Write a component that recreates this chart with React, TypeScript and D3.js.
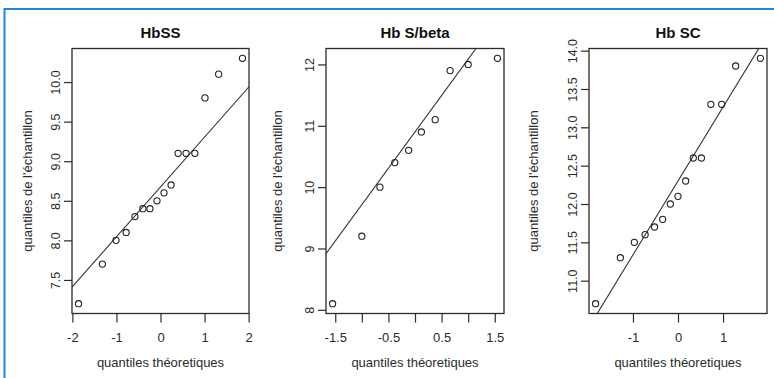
import * as d3 from "d3";
import React, { Component } from "react";

const titles = ["HbSS", "Hb S/beta", "Hb SC"];

// theoretical quantiles (x) and sample quantiles (y)
const hbssTheo = [-1.86, -1.32, -1.01, -0.78, -0.58, -0.4, -0.24, -0.08, 0.08, 0.24, 0.4, 0.58, 0.78, 1.01, 1.32, 1.86];
const hbssSample = [7.2, 7.7, 8.0, 8.1, 8.3, 8.4, 8.4, 8.5, 8.6, 8.7, 9.1, 9.1, 9.1, 9.8, 10.1, 10.3];

const sbetaTheo = [-1.55, -1.0, -0.66, -0.38, -0.12, 0.12, 0.38, 0.66, 1.0, 1.55];
const sbetaSample = [8.1, 9.2, 10.0, 10.4, 10.6, 10.9, 11.1, 11.9, 12.0, 12.1];

const hbscTheo = [-1.83, -1.28, -0.97, -0.73, -0.52, -0.34, -0.17, 0, 0.17, 0.34, 0.52, 0.73, 0.97, 1.28, 1.83];
const hbscSample = [10.7, 11.3, 11.5, 11.6, 11.7, 11.8, 12.0, 12.1, 12.3, 12.6, 12.6, 13.3, 13.3, 13.8, 13.9];

const xTicks = [[-2, -1, 0, 1, 2], [-1.5, -1, -0.5, 0, 0.5, 1, 1.5], [-1, 0, 1]];
const xTickLabels = [["-2", "-1", "0", "1", "2"], ["-1.5", "", "-0.5", "", "0.5", "", "1.5"], ["-1", "0", "1"]];
const yTicks = [[7.5, 8, 8.5, 9, 9.5, 10], [8, 9, 10, 11, 12], [11, 11.5, 12, 12.5, 13, 13.5, 14]];
const yTickLabels = [
  ["7.5", "8.0", "8.5", "9.0", "9.5", "10.0"],
  ["8", "9", "10", "11", "12"],
  ["11.0", "11.5", "12.0", "12.5", "13.0", "13.5", "14.0"]
];

const xTitle = "quantiles théoretiques";
const yTitle = "quantiles de l'échantillon";

class App extends Component {
  svgRef = React.createRef<SVGSVGElement>();

  componentDidMount() {
    this.drawChart();
  }

  drawChart() {
    var width = 774,
      height = 378;
    var panels = [
      { theo: hbssTheo, sample: hbssSample, left: 72, right: 249, yTitleX: 27 },
      { theo: sbetaTheo, sample: sbetaSample, left: 326, right: 504, yTitleX: 277 },
      { theo: hbscTheo, sample: hbscSample, left: 589, right: 767, yTitleX: 533 }
    ];
    var top = 48.5,
      bottom = 313.5;
    var ink = "#2b2b2b";
    var font = "Liberation Sans, Arial, sans-serif";

    var svg = d3.select(this.svgRef.current);
    svg.selectAll("*").remove();

    // blue frame (top and left edge)
    svg.append("line")
      .attr("x1", 4.5).attr("x2", width)
      .attr("y1", 9).attr("y2", 9)
      .attr("stroke", "#1e88d2").attr("stroke-width", 2);
    svg.append("line")
      .attr("x1", 4.5).attr("x2", 4.5)
      .attr("y1", 8).attr("y2", height)
      .attr("stroke", "#1e88d2").attr("stroke-width", 2);

    panels.forEach(function (p, k) {
      // R style: pad range by 4%
      var xe = d3.extent(p.theo) as [number, number];
      var ye = d3.extent(p.sample) as [number, number];
      var xp = (xe[1] - xe[0]) * 0.04,
        yp = (ye[1] - ye[0]) * 0.04;
      var xScale = d3.scaleLinear().domain([xe[0] - xp, xe[1] + xp]).range([p.left, p.right]);
      var yScale = d3.scaleLinear().domain([ye[0] - yp, ye[1] + yp]).range([bottom, top]);

      var g = svg.append("g");

      g.append("clipPath").attr("id", "clip" + k)
        .append("rect")
        .attr("x", p.left).attr("y", top)
        .attr("width", p.right - p.left).attr("height", bottom - top);

      // qqline through the quartiles
      var q1 = d3.quantile(p.sample, 0.25) as number;
      var q3 = d3.quantile(p.sample, 0.75) as number;
      var z = 0.6745;
      var slope = (q3 - q1) / (2 * z);
      var intercept = q1 + slope * z;
      var xd = xScale.domain();
      g.append("line")
        .attr("clip-path", "url(#clip" + k + ")")
        .attr("x1", xScale(xd[0])).attr("y1", yScale(intercept + slope * xd[0]))
        .attr("x2", xScale(xd[1])).attr("y2", yScale(intercept + slope * xd[1]))
        .attr("stroke", "#333").attr("stroke-width", 1.1);

      // points
      g.selectAll(".pt")
        .data(p.sample)
        .enter().append("circle")
        .attr("class", "pt")
        .attr("cx", function (d, i) { return xScale(p.theo[i]); })
        .attr("cy", function (d) { return yScale(d); })
        .attr("r", 3.1)
        .attr("fill", "none")
        .attr("stroke", "#222")
        .attr("stroke-width", 1.1);

      // box
      g.append("rect")
        .attr("x", p.left).attr("y", top)
        .attr("width", p.right - p.left).attr("height", bottom - top)
        .attr("fill", "none").attr("stroke", ink).attr("stroke-width", 1.3);

      // x axis
      var xAxis = d3.axisBottom(xScale)
        .tickValues(xTicks[k])
        .tickSize(9)
        .tickSizeOuter(0)
        .tickFormat(function (d, i) { return xTickLabels[k][i]; });
      var xg = g.append("g")
        .attr("transform", "translate(0," + bottom + ")")
        .call(xAxis);
      xg.select(".domain").remove();
      xg.selectAll("line").attr("stroke", ink).attr("stroke-width", 1.2);
      xg.selectAll("text")
        .attr("y", 19)
        .attr("font-size", "13px")
        .attr("font-family", font)
        .attr("fill", ink);

      // y axis
      var yAxis = d3.axisLeft(yScale)
        .tickValues(yTicks[k])
        .tickSize(8)
        .tickSizeOuter(0)
        .tickFormat(function (d, i) { return yTickLabels[k][i]; });
      var yg = g.append("g")
        .attr("transform", "translate(" + p.left + ",0)")
        .call(yAxis);
      yg.select(".domain").remove();
      yg.selectAll("line").attr("stroke", ink).attr("stroke-width", 1.2);
      yg.selectAll("text")
        .attr("x", null)
        .attr("dy", null)
        .attr("transform", "translate(-12,0) rotate(-90)")
        .attr("text-anchor", "middle")
        .attr("font-size", "12.5px")
        .attr("font-family", font)
        .attr("fill", ink);

      // titles
      g.append("text")
        .attr("x", (p.left + p.right) / 2).attr("y", 38)
        .attr("text-anchor", "middle")
        .attr("font-size", "15px")
        .attr("font-weight", "bold")
        .attr("font-family", font)
        .attr("fill", "#111")
        .text(titles[k]);

      g.append("text")
        .attr("x", (p.left + p.right) / 2).attr("y", 367)
        .attr("text-anchor", "middle")
        .attr("font-size", "13px")
        .attr("font-family", font)
        .attr("fill", ink)
        .text(xTitle);

      g.append("text")
        .attr("transform", "translate(" + (p.yTitleX + 5) + "," + (top + bottom) / 2 + ") rotate(-90)")
        .attr("text-anchor", "middle")
        .attr("font-size", "13px")
        .attr("font-family", font)
        .attr("fill", ink)
        .text(yTitle);
    });
  }

  render() {
    return (
      <div style={{ position: "absolute", left: 0, top: 0 }}>
        <svg ref={this.svgRef} width={774} height={378} style={{ display: "block", background: "#fff" }}></svg>
      </div>
    );
  }
}

export default App;
